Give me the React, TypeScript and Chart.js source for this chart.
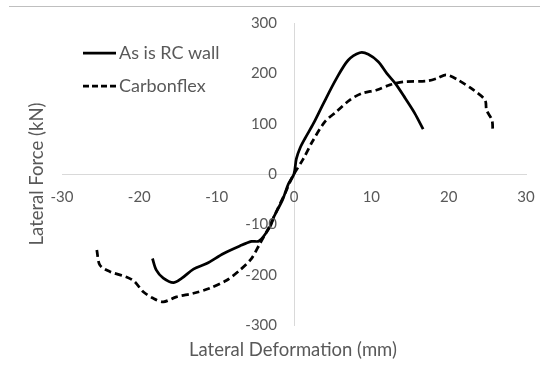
import React, { useEffect, useRef } from "react";
import { Chart, registerables } from "chart.js";

Chart.register(...registerables);

// Backbone curves: lateral deformation (mm) vs. lateral force (kN)
const asIsDeformation = [
  -18.3, -17.8, -16.9, -15.6, -14.5, -13.0, -11.3, -9.1, -7.0, -5.5, -4.5, -3.1, -2.6, -1.5, -0.7, 0,
  0.3, 0.8, 1.4, 2.5, 3.8, 5.5, 7.0, 8.5, 9.6, 10.9, 12.0, 13.1, 14.4, 15.6, 16.7,
];
const asIsForce = [
  -168, -191, -207, -216, -207, -189, -178, -158, -143, -134, -133, -105, -85, -52, -19, 0,
  30, 52, 70, 100, 140, 190, 226, 241, 238, 223, 200, 180, 150, 121, 89,
];

const carbonflexDeformation = [
  -25.5, -25.1, -23.8, -21.6, -20.6, -19.5, -18.2, -16.9, -15.2, -13.0, -10.9, -8.7, -7.0, -5.5, -4.4,
  -3.2, -2.2, -1.2, -0.5, 0,
  1.2, 2.4, 4.0, 5.5, 7.2, 8.75, 10.7, 12.4, 14.1, 17.2, 18.5, 19.7, 21.3, 23.2, 24.7, 24.9, 25.6, 25.7,
];
const carbonflexForce = [
  -151, -181, -194, -205, -214, -234, -247, -254, -244, -237, -227, -211, -191, -168, -138,
  -105, -72, -40, -15, 0,
  30, 65, 104, 124, 147, 160, 167, 177, 183, 185, 190, 197, 186, 167, 147, 127, 107, 87,
];

const seriesNames = ["As is RC wall", "Carbonflex"];
const xTitle = "Lateral Deformation (mm)";
const yTitle = "Lateral Force (kN)";

const FONT = 'Lato, "Open Sans", sans-serif';
const TEXT = "#595959";
const AXIS = "#d9d9d9";
const TICK_SIZE = 15;

const toPoints = (xs: number[], ys: number[]) => xs.map((x, i) => ({ x, y: ys[i] }));

// Frame line, tick labels beside the crossing axes, axis titles and the in-plot legend
const decorations = {
  id: "decorations",
  afterDraw(chart: Chart) {
    const ctx = chart.ctx;
    const xs: any = chart.scales.x;
    const ys: any = chart.scales.y;
    ctx.save();
    ctx.fillStyle = "#bfbfbf";
    ctx.fillRect(9, 6, 531, 1);

    const axisX = xs.getPixelForValue(0);
    const axisY = ys.getPixelForValue(0);
    ctx.fillStyle = TEXT;
    ctx.font = `${TICK_SIZE}px ${FONT}`;
    ctx.textBaseline = "middle";
    ctx.textAlign = "right";
    ys.ticks.forEach((t: any) => {
      ctx.fillText(String(t.value), axisX - 17, ys.getPixelForValue(t.value));
    });
    ctx.textAlign = "center";
    xs.ticks.forEach((t: any) => {
      ctx.fillText(String(t.value), xs.getPixelForValue(t.value), axisY + 23);
    });

    ctx.font = `18.5px ${FONT}`;
    ctx.fillText(xTitle, 293, 350);
    ctx.save();
    ctx.translate(37, 174);
    ctx.rotate(-Math.PI / 2);
    ctx.fillText(yTitle, 0, 0);
    ctx.restore();

    const rows = [53, 86];
    chart.data.datasets.forEach((ds: any, i: number) => {
      const y = rows[i];
      ctx.strokeStyle = "#000";
      ctx.lineWidth = 2.75;
      ctx.setLineDash(i === 0 ? [] : [6, 3]);
      ctx.beginPath();
      ctx.moveTo(83, y);
      ctx.lineTo(116, y);
      ctx.stroke();
      ctx.setLineDash([]);
      ctx.fillStyle = TEXT;
      ctx.font = `18px ${FONT}`;
      ctx.textAlign = "left";
      ctx.fillText(ds.label, 119, y);
    });
    ctx.restore();
  },
};

export default function App() {
  const ref = useRef<HTMLCanvasElement>(null);

  useEffect(() => {
    const chart = new Chart(ref.current!, {
      type: "scatter",
      data: {
        datasets: [
          {
            label: seriesNames[0],
            data: toPoints(asIsDeformation, asIsForce),
            showLine: true,
            borderColor: "#000",
            borderWidth: 2.75,
            pointRadius: 0,
            tension: 0.3,
          },
          {
            label: seriesNames[1],
            data: toPoints(carbonflexDeformation, carbonflexForce),
            showLine: true,
            borderColor: "#000",
            borderWidth: 2.75,
            borderDash: [7, 4],
            pointRadius: 0,
            tension: 0.3,
          },
        ],
      },
      options: {
        responsive: false,
        animation: false,
        layout: { padding: { left: 62, right: 14, top: 23, bottom: 40 } },
        plugins: { legend: { display: false }, tooltip: { enabled: false } },
        scales: {
          x: {
            type: "linear",
            position: { y: 0 },
            min: -30,
            max: 30,
            grid: { display: false, drawTicks: false },
            border: { display: true, color: AXIS, width: 1 },
            ticks: { stepSize: 10, display: false },
          },
          y: {
            type: "linear",
            position: { x: 0 },
            min: -300,
            max: 300,
            grid: { display: false, drawTicks: false },
            border: { display: true, color: AXIS, width: 1 },
            ticks: { stepSize: 100, display: false },
          },
        },
      },
      plugins: [decorations],
    });
    return () => chart.destroy();
  }, []);

  return (
    <div style={{ position: "fixed", left: 0, top: 0, width: 540, height: 365, background: "#fff" }}>
      <canvas ref={ref} width={540} height={365} />
    </div>
  );
}
